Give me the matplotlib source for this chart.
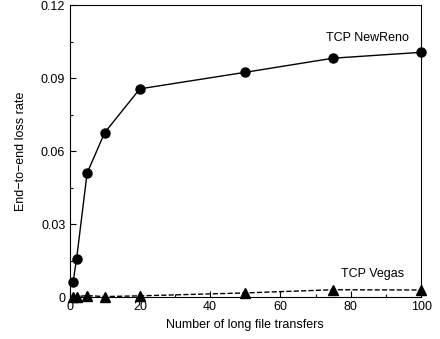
import matplotlib.pyplot as plt
from matplotlib.ticker import FixedLocator, FuncFormatter

plt.rcParams['font.family'] = ['Liberation Sans', 'DejaVu Sans']

transfers = [1, 2, 5, 10, 20, 50, 75, 100]
newreno_loss = [0.0063, 0.0157, 0.0510, 0.0676, 0.0856, 0.0924, 0.0982, 0.1006]
vegas_loss = [0.0002, 0.0003, 0.0007, 0.0003, 0.0006, 0.0018, 0.0031, 0.0030]

fig = plt.figure(figsize=(4.4, 3.39), dpi=100)
ax = fig.add_axes([0.158, 0.123, 0.799, 0.862])

ax.plot(transfers, newreno_loss, 'k-o', lw=1, ms=6.5, clip_on=False, zorder=3)
ax.plot(transfers, vegas_loss, 'k--^', lw=1, ms=6.5, clip_on=False, zorder=3)

ax.set_xlim(0, 100)
ax.set_ylim(0, 0.12)
ax.xaxis.set_major_locator(FixedLocator([0, 20, 40, 60, 80, 100]))
ax.xaxis.set_minor_locator(FixedLocator([10, 30, 50, 70, 90]))
ax.yaxis.set_major_locator(FixedLocator([0, 0.03, 0.06, 0.09, 0.12]))
ax.yaxis.set_minor_locator(FixedLocator([0.015, 0.045, 0.075, 0.105]))
ax.yaxis.set_major_formatter(FuncFormatter(lambda v, p: '0' if v == 0 else '%g' % v))
ax.tick_params(which='major', direction='in', length=4, width=0.8, labelsize=9, pad=3)
ax.tick_params(which='minor', direction='in', length=2, width=0.8)

ax.set_xlabel('Number of long file transfers', fontsize=9, labelpad=4)
ax.set_ylabel('End\u2212to\u2212end loss rate', fontsize=9, labelpad=10)

ax.text(84.6, 0.1064, 'TCP NewReno', fontsize=9, ha='center', va='center')
ax.text(86.3, 0.0096, 'TCP Vegas', fontsize=9, ha='center', va='center')

fig.savefig('out.png', dpi=100)
